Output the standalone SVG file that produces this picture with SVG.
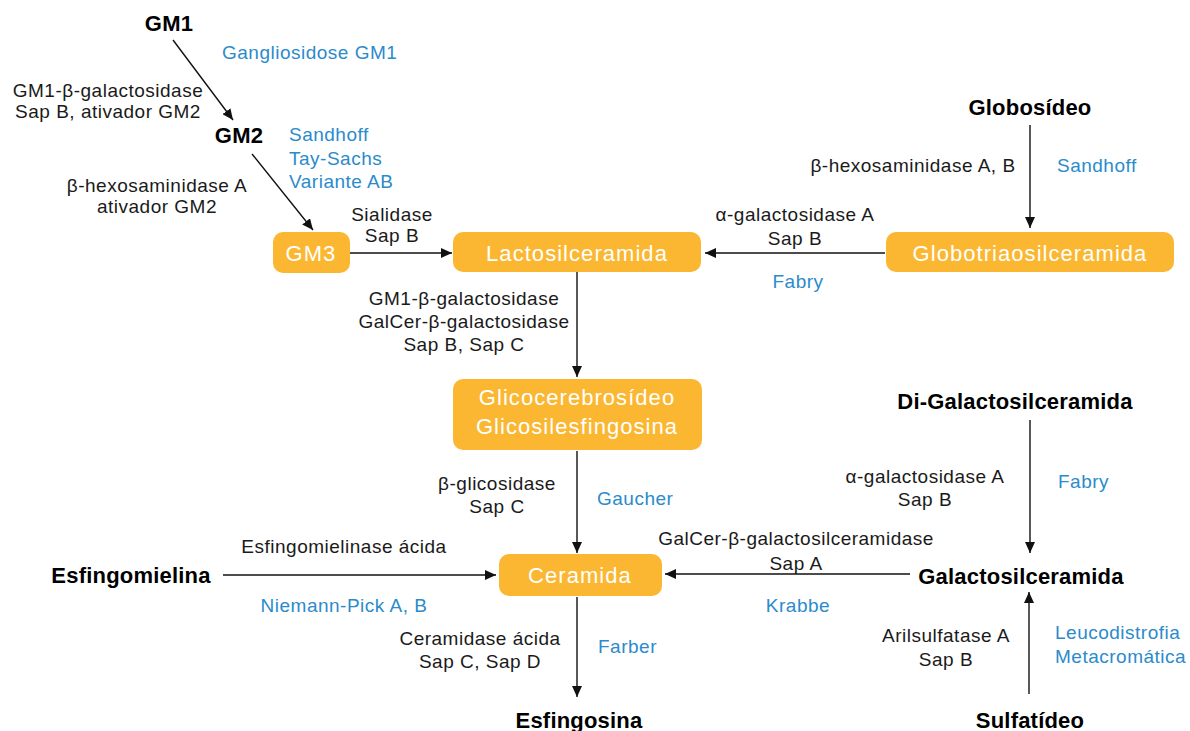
<svg xmlns="http://www.w3.org/2000/svg" width="1190" height="731" viewBox="0 0 1190 731">
<defs>
<marker id="ah" markerUnits="userSpaceOnUse" markerWidth="12" markerHeight="10" refX="11" refY="5" orient="auto">
<path d="M0,0 L11,5 L0,10 Z" fill="#111"/>
</marker>
<style>
.t{font-family:"Liberation Sans",Arial,sans-serif;font-size:19px;letter-spacing:0.5px;fill:#1a1a1a;text-anchor:middle}
.b{font-family:"Liberation Sans",Arial,sans-serif;font-size:22px;font-weight:bold;letter-spacing:0.2px;fill:#000;text-anchor:middle}
.d{font-family:"Liberation Sans",Arial,sans-serif;font-size:19px;letter-spacing:0.5px;fill:#2b8bcb}
.c{text-anchor:middle}
.w{font-family:"Liberation Sans",Arial,sans-serif;font-size:22px;letter-spacing:1.05px;fill:#fff;text-anchor:middle}
.box{fill:#fbb731}
.ln{stroke:#111;stroke-width:1.4;fill:none;marker-end:url(#ah)}
</style>
</defs>
<rect width="1190" height="731" fill="#fff"/>

<g id="connectors">
<path class="ln" d="M173,40 L233,120"/>
<path class="ln" d="M252,154 L313,230"/>
<path class="ln" d="M350,253 L452,253"/>
<path class="ln" d="M885,253 L705,253"/>
<path class="ln" d="M1030,125 L1030,228"/>
<path class="ln" d="M577,272 L577,377"/>
<path class="ln" d="M577,451 L577,553"/>
<path class="ln" d="M223,575 L496,575"/>
<path class="ln" d="M910,574 L665,574"/>
<path class="ln" d="M1030,420 L1030,553"/>
<path class="ln" d="M1029,694 L1029,592"/>
<path class="ln" d="M577,597 L577,697"/>
</g>

<g id="gm1"><text class="b" x="169" y="31">GM1</text></g>
<g id="gm2"><text class="b" x="239" y="143">GM2</text></g>
<g id="gm3"><rect class="box" x="273" y="232" width="77" height="41" rx="10"/><text class="w" x="311" y="261">GM3</text></g>
<g id="lactosilceramida"><rect class="box" x="453" y="232" width="248" height="40" rx="10"/><text class="w" x="577" y="261">Lactosilceramida</text></g>
<g id="globotriaosilceramida"><rect class="box" x="886" y="232" width="288" height="40" rx="10"/><text class="w" x="1030" y="261">Globotriaosilceramida</text></g>
<g id="globosideo"><text class="b" x="1030" y="115">Globosídeo</text></g>
<g id="glicocerebrosideo"><rect class="box" x="453" y="379" width="249" height="71" rx="10"/><text class="w" x="577" y="405">Glicocerebrosídeo</text><text class="w" x="577" y="434">Glicosilesfingosina</text></g>
<g id="ceramida"><rect class="box" x="499" y="554" width="163" height="42" rx="10"/><text class="w" x="580" y="583">Ceramida</text></g>
<g id="esfingomielina"><text class="b" x="131" y="583">Esfingomielina</text></g>
<g id="esfingosina"><text class="b" x="579" y="728">Esfingosina</text></g>
<g id="di-galactosilceramida"><text class="b" x="1015" y="409">Di-Galactosilceramida</text></g>
<g id="galactosilceramida"><text class="b" x="1021" y="584">Galactosilceramida</text></g>
<g id="sulfatideo"><text class="b" x="1030" y="728">Sulfatídeo</text></g>

<g id="labels">
<text class="d" x="222" y="59">Gangliosidose GM1</text>
<text class="t" x="108" y="97">GM1-β-galactosidase</text>
<text class="t" x="108" y="118">Sap B, ativador GM2</text>
<text class="d" x="289" y="141">Sandhoff</text>
<text class="d" x="289" y="165">Tay-Sachs</text>
<text class="d" x="289" y="188">Variante AB</text>
<text class="t" x="157" y="192">β-hexosaminidase A</text>
<text class="t" x="157" y="213">ativador GM2</text>
<text class="t" x="392" y="221">Sialidase</text>
<text class="t" x="392" y="242">Sap B</text>
<text class="t" x="795" y="221">α-galactosidase A</text>
<text class="t" x="795" y="245">Sap B</text>
<text class="d c" x="798" y="288">Fabry</text>
<text class="t" x="913" y="172">β-hexosaminidase A, B</text>
<text class="d" x="1057" y="172">Sandhoff</text>
<text class="t" x="464" y="305">GM1-β-galactosidase</text>
<text class="t" x="464" y="328">GalCer-β-galactosidase</text>
<text class="t" x="464" y="351">Sap B, Sap C</text>
<text class="t" x="497" y="490">β-glicosidase</text>
<text class="t" x="497" y="513">Sap C</text>
<text class="d" x="597" y="505">Gaucher</text>
<text class="t" x="344" y="553">Esfingomielinase ácida</text>
<text class="d c" x="344" y="612">Niemann-Pick A, B</text>
<text class="t" x="480" y="645">Ceramidase ácida</text>
<text class="t" x="480" y="668">Sap C, Sap D</text>
<text class="d" x="598" y="653">Farber</text>
<text class="t" x="796" y="545">GalCer-β-galactosilceramidase</text>
<text class="t" x="796" y="570">Sap A</text>
<text class="d c" x="798" y="612">Krabbe</text>
<text class="t" x="925" y="483">α-galactosidase A</text>
<text class="t" x="925" y="506">Sap B</text>
<text class="d" x="1058" y="488">Fabry</text>
<text class="t" x="946" y="642">Arilsulfatase A</text>
<text class="t" x="946" y="666">Sap B</text>
<text class="d" x="1055" y="639">Leucodistrofia</text>
<text class="d" x="1055" y="663">Metacromática</text>
</g>
</svg>
